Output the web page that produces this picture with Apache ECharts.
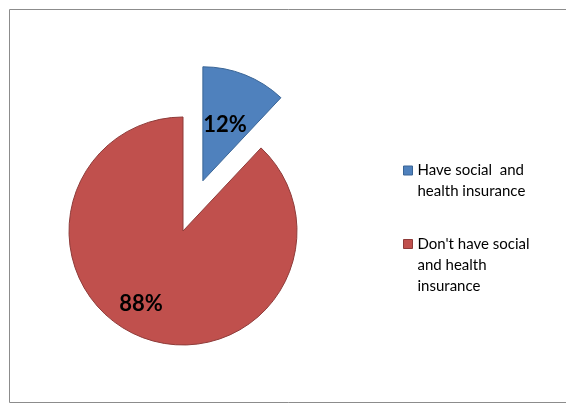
<!DOCTYPE html>
<html>
<head>
<meta charset="utf-8">
<script src="https://cdn.jsdelivr.net/npm/echarts@6/dist/echarts.min.js"></script>
<style>
  html, body { margin: 0; padding: 0; background: #fff; }
  #main { width: 566px; height: 405px; }
</style>
</head>
<body>
<div id="main"></div>
<script>
var categories = ['Have social  and\nhealth insurance', "Don't have social\nand health\ninsurance"];
var values = [12, 88];
var colors = ['#4F81BD', '#C0504D'];
var borders = ['#3A6596', '#8E3B39'];
var labelOffsets = [[1, -6], [-20, 17]];

var chartDom = document.getElementById('main');
var myChart = echarts.init(chartDom);

var LINE_H = 21;

// one legend per entry; blank lines above the text keep the marker on the first line
function makeLegend(i, firstLineY) {
  var lines = categories[i].split('\n').length;
  var pad = '';
  for (var k = 1; k < lines; k++) pad += '\n';
  return {
    orient: 'vertical',
    left: 403,
    top: firstLineY - (lines - 1) * LINE_H - LINE_H / 2,
    padding: 0,
    itemWidth: 9,
    itemHeight: 9,
    icon: 'rect',
    selectedMode: false,
    data: [{ name: categories[i], itemStyle: { color: colors[i], borderColor: borders[i], borderWidth: 1 } }],
    formatter: function (name) { return pad + name; },
    textStyle: {
      fontFamily: 'Lato',
      fontSize: 15,
      color: '#000',
      lineHeight: LINE_H
    }
  };
}

var option = {
  animation: false,
  graphic: [
    {
      type: 'rect',
      shape: { x: 9.5, y: 9.5, width: 570, height: 393 },
      style: { fill: 'none', stroke: '#8c8c8c', lineWidth: 1 },
      silent: true
    }
  ],
  legend: [
    makeLegend(0, 170.5),
    makeLegend(1, 244)
  ],
  series: [
    {
      type: 'pie',
      center: [183, 231],
      radius: 114,
      startAngle: 90,
      selectedMode: 'single',
      selectedOffset: 54,
      label: {
        position: 'inside',
        formatter: '{c}%',
        fontFamily: 'Lato',
        fontWeight: 'bold',
        fontSize: 22,
        color: '#000'
      },
      labelLine: { show: false },
      emphasis: { disabled: true },
      data: categories.map(function (c, i) {
        return {
          name: c,
          value: values[i],
          selected: i === 0,
          itemStyle: { color: colors[i], borderColor: borders[i], borderWidth: 1 },
          label: { offset: labelOffsets[i] }
        };
      })
    }
  ]
};

option && myChart.setOption(option);
</script>
</body>
</html>
